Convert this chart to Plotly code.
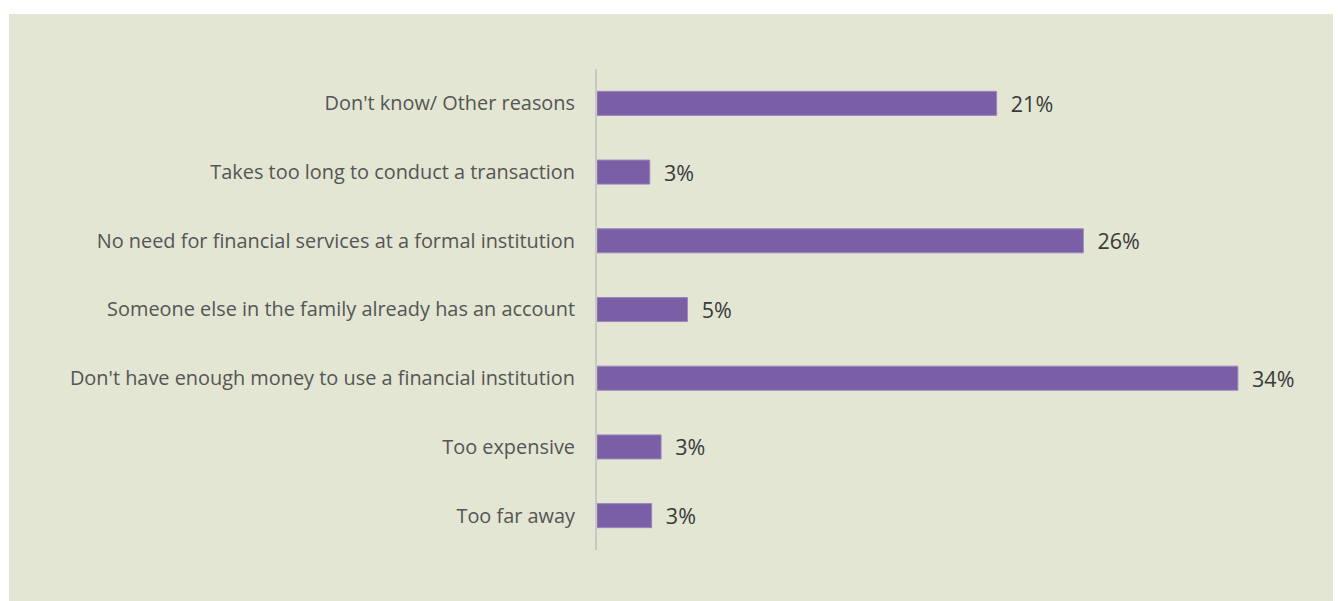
import plotly.graph_objects as go

reasons = [
    "Don't know/ Other reasons",
    "Takes too long to conduct a transaction",
    "No need for financial services at a formal institution",
    "Someone else in the family already has an account",
    "Don't have enough money to use a financial institution",
    "Too expensive",
    "Too far away",
]
shares = [21.2, 2.8, 25.8, 4.8, 34.0, 3.4, 2.9]
share_labels = ["21%", "3%", "26%", "5%", "34%", "3%", "3%"]

# page body adds an 8px margin, so the figure is drawn 8px in
W, H = 1333, 593
left, right, top, bottom = 589, 0, 61, 51
pw = W - left - right
ph = H - top - bottom

fig = go.Figure(go.Bar(
    x=shares,
    y=reasons,
    orientation="h",
    marker=dict(color="#7a5fa6", line=dict(color="#9a88bd", width=1)),
    text=["\u00a0\u00a0" + s for s in share_labels],
    textposition="outside",
    constraintext="none",
    textfont=dict(family="Open Sans", size=21.5, color="#3a3a3a"),
    cliponaxis=False,
    hoverinfo="skip",
))

bg = "#e2e6d3"
fig.add_shape(
    type="rect", xref="paper", yref="paper", layer="below",
    x0=(1 - left) / pw, x1=1.0,
    y0=(top + ph - H) / ph, y1=(top + ph - 6) / ph,
    fillcolor=bg, line=dict(width=0),
)

fig.update_layout(
    width=W, height=H,
    margin=dict(l=left, r=right, t=top, b=bottom),
    paper_bgcolor="white",
    plot_bgcolor=bg,
    bargap=0.65,
    showlegend=False,
    xaxis=dict(range=[0, pw / 18.85], visible=False, fixedrange=True),
    yaxis=dict(
        autorange="reversed",
        showline=True, linecolor="#c9c9c4", linewidth=2,
        ticks="", showgrid=False,
        ticklabelstandoff=16,
        tickfont=dict(family="Open Sans", size=19.9, color="#555555"),
    ),
)

fig.write_html("out.html")
